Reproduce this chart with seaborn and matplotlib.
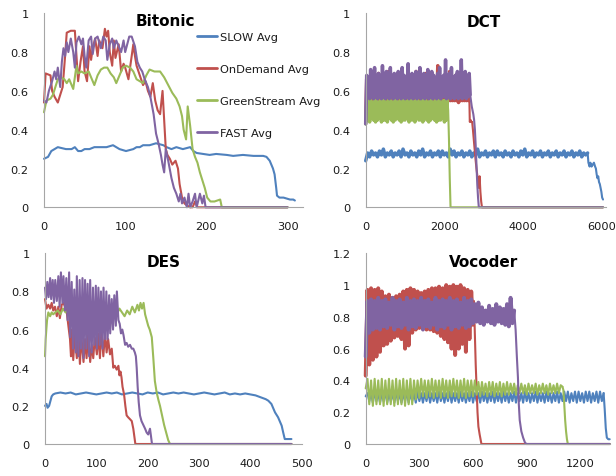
import numpy as np
import pandas as pd
import matplotlib
matplotlib.use("Agg")
import matplotlib.pyplot as plt
import seaborn as sns

# ---------------- data ----------------
SERIES = ["SLOW Avg", "OnDemand Avg", "GreenStream Avg", "FAST Avg"]
COLORS = ["#4F81BD", "#C0504D", "#9BBB59", "#8064A2"]

# Bitonic
bit_slow_x = [0, 5, 9, 13, 17, 27, 34, 38, 42, 46, 50, 56, 62, 69, 77, 85, 89, 93, 101, 110,
              114, 118, 122, 130, 138, 147, 151, 157, 163, 171, 180, 184, 188, 196, 204, 212, 225, 233, 245, 258,
              270, 274, 278, 280, 282, 284, 286, 287, 290, 295, 299, 303, 307, 309]
bit_slow_y = [0.25, 0.26, 0.29, 0.30, 0.31, 0.30, 0.30, 0.31, 0.29, 0.29, 0.30, 0.30, 0.31, 0.31, 0.31, 0.32, 0.31, 0.30, 0.29, 0.30,
              0.31, 0.31, 0.32, 0.32, 0.33, 0.32, 0.31, 0.30, 0.31, 0.30, 0.31, 0.29, 0.28, 0.275, 0.27, 0.275, 0.27, 0.265, 0.27, 0.265,
              0.265, 0.26, 0.24, 0.22, 0.20, 0.17, 0.10, 0.06, 0.05, 0.05, 0.045, 0.04, 0.04, 0.035]
bit_ond_x = [0, 2, 8, 10, 13, 17, 20, 23, 26, 28, 33, 38, 40, 42, 45, 48, 50, 53, 56, 58,
             60, 63, 66, 68, 72, 75, 77, 79, 81, 84, 86, 88, 92, 95, 98, 100, 104, 107, 110, 112,
             114, 118, 122, 125, 128, 131, 134, 137, 140, 143, 146, 148, 150, 152, 155, 158, 162, 165, 167, 170,
             173, 176, 180, 183, 186, 189, 300]
bit_ond_y = [0.54, 0.69, 0.68, 0.60, 0.57, 0.54, 0.58, 0.62, 0.78, 0.90, 0.91, 0.91, 0.78, 0.65, 0.75, 0.83, 0.70, 0.65, 0.83, 0.76,
             0.82, 0.87, 0.78, 0.86, 0.82, 0.92, 0.88, 0.91, 0.80, 0.73, 0.86, 0.77, 0.84, 0.70, 0.74, 0.72, 0.66, 0.75, 0.84, 0.78,
             0.73, 0.68, 0.63, 0.65, 0.60, 0.57, 0.64, 0.55, 0.50, 0.48, 0.60, 0.45, 0.30, 0.27, 0.25, 0.22, 0.24, 0.20, 0.12, 0.05,
             0.02, 0.01, 0.0, 0.0, 0.03, 0.0, 0.0]
bit_green_x = [0, 3, 8, 11, 14, 17, 21, 25, 28, 31, 36, 40, 42, 46, 50, 55, 59, 62, 66, 70,
               74, 78, 82, 86, 89, 93, 97, 101, 106, 110, 114, 118, 122, 126, 130, 136, 143, 148, 153, 158,
               163, 167, 170, 172, 175, 177, 180, 183, 186, 189, 192, 195, 198, 201, 205, 210, 217, 219, 300]
bit_green_y = [0.49, 0.55, 0.56, 0.58, 0.62, 0.66, 0.67, 0.66, 0.64, 0.66, 0.61, 0.73, 0.69, 0.70, 0.69, 0.70, 0.66, 0.63, 0.68, 0.71,
               0.72, 0.72, 0.69, 0.67, 0.64, 0.68, 0.72, 0.73, 0.72, 0.70, 0.66, 0.65, 0.64, 0.68, 0.71, 0.70, 0.70, 0.67, 0.63, 0.59,
               0.56, 0.52, 0.47, 0.40, 0.35, 0.52, 0.42, 0.30, 0.26, 0.23, 0.18, 0.14, 0.10, 0.05, 0.03, 0.03, 0.04, 0.0, 0.0]
bit_fast_x = [0, 3, 6, 10, 13, 15, 17, 20, 22, 24, 26, 28, 30, 33, 36, 38, 40, 43, 46, 48,
              50, 52, 55, 58, 60, 63, 66, 70, 73, 76, 78, 81, 84, 86, 89, 92, 95, 98, 100, 105,
              108, 112, 115, 118, 121, 124, 128, 131, 135, 138, 141, 144, 146, 148, 150, 153, 157, 160, 163, 166,
              168, 170, 173, 176, 178, 180, 183, 186, 188, 192, 195, 197, 199, 300]
bit_fast_y = [0.55, 0.54, 0.60, 0.65, 0.70, 0.66, 0.72, 0.62, 0.75, 0.82, 0.78, 0.85, 0.80, 0.87, 0.80, 0.72, 0.85, 0.88, 0.84, 0.87,
              0.78, 0.72, 0.86, 0.88, 0.79, 0.87, 0.88, 0.82, 0.88, 0.86, 0.76, 0.84, 0.87, 0.82, 0.86, 0.83, 0.80, 0.86, 0.80, 0.88,
              0.88, 0.83, 0.75, 0.72, 0.70, 0.66, 0.62, 0.57, 0.48, 0.38, 0.33, 0.27, 0.22, 0.18, 0.30, 0.24, 0.15, 0.10, 0.07, 0.03,
              0.07, 0.02, 0.05, 0.0, 0.07, 0.0, 0.03, 0.07, 0.0, 0.07, 0.02, 0.06, 0.0, 0.0]

# DCT (dense bands in hundredths, sampled evenly from 0 to band end, then the fall-off)
dct_slow_band = [24, 28, 26, 29, 27, 28, 26, 29, 27, 30, 26, 28, 27, 29, 26, 28, 27, 29, 26, 30,
                 27, 28, 26, 29, 27, 28, 26, 29, 27, 30, 26, 28, 27, 29, 26, 28, 27, 29, 26, 29,
                 27, 28, 26, 30, 27, 29, 26, 28, 27, 29, 26, 28, 27, 29, 26, 28, 27, 30, 26, 28,
                 27, 29, 26, 28, 27, 29, 26, 29, 27, 28, 26, 29, 27, 28, 26, 29, 27, 28, 26, 29,
                 27, 30, 26, 28, 27, 29, 26, 28, 27, 29, 26, 28, 27, 29, 26, 28, 27, 29, 26, 28,
                 27, 29, 26, 28, 27, 29, 26, 28, 27, 29, 26, 28, 27, 28]
dct_slow_end = 5650
dct_slow_tail_x = [5670, 5700, 5720, 5750, 5780, 5810, 5840, 5860, 5880, 5900, 5920, 5940, 5960, 5980, 6000, 6020, 6042]
dct_slow_tail_y = [0.23, 0.21, 0.23, 0.21, 0.22, 0.23, 0.21, 0.20, 0.17, 0.15, 0.16, 0.13, 0.12, 0.10, 0.08, 0.05, 0.04]

dct_ond_band = [44, 66, 55, 64, 55, 68, 55, 65, 54, 67, 55, 63, 55, 69, 55, 66, 55, 64, 55, 68,
                54, 66, 55, 70, 55, 65, 55, 67, 55, 64, 55, 68, 55, 66, 54, 65, 55, 69, 55, 66,
                55, 63, 55, 67, 55, 68, 55, 65, 55, 66, 54, 70, 55, 64, 55, 67, 55, 66, 55, 65,
                55, 69, 55, 66, 55, 68, 54, 65, 55, 67, 55, 66, 55, 73, 55, 65, 55, 67, 55, 66,
                55, 68, 55, 64, 55, 70, 55, 66, 55, 65, 55, 68, 55, 66, 54, 67, 55, 65, 55, 69,
                55, 66, 55, 67, 55, 55]
dct_ond_end = 2640
dct_ond_tail_x = [2650, 2670, 2690, 2710, 2730, 2760, 2790, 2820, 2850, 2880, 2900, 2920, 2940, 2960, 6042]
dct_ond_tail_y = [0.44, 0.45, 0.44, 0.44, 0.40, 0.33, 0.26, 0.20, 0.15, 0.10, 0.16, 0.08, 0.03, 0.0, 0.0]

dct_green_band = [43, 54, 45, 55, 44, 55, 46, 54, 45, 55, 44, 55, 45, 54, 46, 55, 44, 55, 45, 55,
                  45, 54, 44, 55, 46, 55, 45, 54, 44, 55, 45, 55, 46, 54, 45, 55, 44, 55, 45, 55,
                  45, 54, 46, 55, 44, 55, 45, 55, 45, 54, 44, 55, 46, 55, 45, 54, 45, 55, 44, 55,
                  46, 55, 45, 54, 44, 55, 45, 55, 46, 54, 45, 55, 44, 55, 45, 55, 45, 54, 46, 55,
                  44, 55, 45, 55]
dct_green_end = 2080
dct_green_tail_x = [2100, 2120, 2140, 2160, 6042]
dct_green_tail_y = [0.50, 0.35, 0.15, 0.0, 0.0]

dct_fast_band = [43, 68, 57, 66, 56, 71, 57, 67, 56, 72, 57, 66, 56, 69, 57, 67, 56, 73, 57, 66,
                 56, 70, 57, 68, 56, 72, 57, 66, 56, 69, 57, 67, 56, 70, 57, 66, 56, 72, 57, 68,
                 56, 67, 57, 74, 56, 66, 57, 69, 56, 68, 57, 70, 56, 67, 57, 72, 56, 66, 57, 69,
                 56, 68, 57, 71, 56, 67, 57, 70, 56, 68, 57, 66, 56, 69, 57, 72, 56, 67, 57, 68,
                 57, 76, 56, 66, 57, 69, 56, 72, 57, 67, 56, 68, 57, 70, 56, 66, 57, 76, 56, 68,
                 57, 70, 56, 67, 57, 69, 58]
dct_fast_end = 2660
dct_fast_tail_x = [2680, 2700, 2720, 2740, 2760, 2780, 2800, 2820, 2840, 2860, 2880, 6042]
dct_fast_tail_y = [0.55, 0.52, 0.50, 0.48, 0.45, 0.40, 0.32, 0.22, 0.12, 0.05, 0.0, 0.0]

# DES
des_slow_x = [0, 3, 5, 8, 10, 13, 16, 20,
              30, 40, 50, 60, 70, 80, 90, 100, 110, 120, 130, 140, 150, 160, 170, 180, 190, 200, 210,
              220, 230, 240, 250, 260, 270, 280, 290, 300, 310, 320, 330, 340, 350, 360, 370, 380, 390,
              400, 410, 415, 420, 425, 430, 435, 441, 448, 454, 461, 464, 467, 472, 480]
des_slow_y = [0.20, 0.21, 0.19, 0.20, 0.22, 0.25, 0.26, 0.265,
              0.27, 0.265, 0.27, 0.26, 0.265, 0.27, 0.265, 0.26, 0.265, 0.27, 0.265, 0.27, 0.26, 0.265, 0.27, 0.265, 0.26, 0.27, 0.265,
              0.27, 0.26, 0.265, 0.27, 0.265, 0.27, 0.265, 0.26, 0.265, 0.27, 0.265, 0.26, 0.265, 0.27, 0.26, 0.265, 0.26, 0.265,
              0.26, 0.255, 0.25, 0.245, 0.24, 0.235, 0.227, 0.21, 0.166, 0.14, 0.096, 0.06, 0.026, 0.026, 0.026]
des_ond_x = [0, 3, 6.5, 10, 13, 16, 19.5, 23, 26, 29, 32.5, 36, 39, 42, 45.5, 48.7, 50.6, 52.6, 55, 58,
             62, 65, 68, 71, 75, 78, 81, 84, 88, 91, 94, 97, 101, 104, 107, 110, 113.6, 117, 120, 123,
             126.6, 130, 133, 136, 139.6, 143, 145, 147, 149, 151, 154, 156.5, 159, 162, 165.6, 169, 172, 174, 176, 480]
des_ond_y = [0.76, 0.71, 0.73, 0.71, 0.74, 0.70, 0.72, 0.67, 0.72, 0.66, 0.73, 0.74, 0.72, 0.70, 0.62, 0.55, 0.46, 0.60, 0.44, 0.58,
             0.45, 0.60, 0.42, 0.56, 0.43, 0.55, 0.45, 0.58, 0.43, 0.52, 0.45, 0.56, 0.47, 0.58, 0.45, 0.60, 0.46, 0.58, 0.48, 0.55,
             0.47, 0.50, 0.40, 0.41, 0.39, 0.41, 0.36, 0.38, 0.35, 0.30, 0.26, 0.20, 0.15, 0.14, 0.13, 0.12, 0.08, 0.04, 0.0, 0.0]
des_green_x = [0, 1.3, 2.6, 4, 6.5, 10, 13, 16, 20, 25,
               30, 35, 40, 45, 50, 55, 60, 65, 70, 75, 80, 85, 90, 95, 100, 105, 110, 115, 120, 125,
               130, 135, 140, 145, 150, 155, 160, 165, 170, 175, 180,
               183, 186, 189, 192, 195, 198, 201, 204, 208, 211, 214, 217.5, 221, 224, 228, 232, 237, 240, 243.5, 480]
des_green_y = [0.46, 0.55, 0.60, 0.65, 0.69, 0.67, 0.69, 0.68, 0.69, 0.70,
               0.68, 0.71, 0.69, 0.70, 0.68, 0.71, 0.70, 0.72, 0.69, 0.70, 0.68, 0.71, 0.69, 0.70, 0.72, 0.69, 0.70, 0.68, 0.70, 0.71,
               0.69, 0.70, 0.68, 0.71, 0.69, 0.67, 0.70, 0.68, 0.72, 0.69, 0.73,
               0.70, 0.74, 0.71, 0.74, 0.68, 0.65, 0.62, 0.60, 0.56, 0.45, 0.33, 0.27, 0.23, 0.20, 0.15, 0.10, 0.05, 0.02, 0.0, 0.0]
des_fast_x = [0, 2, 4.5, 7, 10, 12, 15, 17.5, 20, 23, 26, 28.5, 31, 34, 36, 39, 41.5, 44, 47, 49,
              52, 54.5, 57, 60, 62, 65, 67.5, 70, 73, 75, 78, 80.5, 83, 86, 88, 91, 93.5, 96, 99, 101,
              104, 106.5, 109, 112, 114, 117, 119.5, 122, 125, 127, 130, 132.5, 135, 138, 140, 143, 145.5, 148, 150.6, 153,
              156, 159, 162, 165.6, 169, 172, 175, 177, 178.6, 180.5, 182.5, 185, 188, 191.5, 195, 198, 201, 204.5, 206.5, 208.4, 480]
des_fast_y = [0.82, 0.76, 0.85, 0.77, 0.87, 0.76, 0.86, 0.74, 0.86, 0.75, 0.88, 0.72, 0.90, 0.74, 0.88, 0.70, 0.87, 0.65, 0.90, 0.56,
              0.85, 0.50, 0.81, 0.48, 0.88, 0.46, 0.86, 0.50, 0.87, 0.45, 0.86, 0.50, 0.84, 0.46, 0.86, 0.48, 0.82, 0.52, 0.83, 0.50,
              0.82, 0.52, 0.80, 0.50, 0.82, 0.55, 0.80, 0.55, 0.78, 0.58, 0.76, 0.60, 0.78, 0.62, 0.80, 0.65, 0.63, 0.58, 0.60, 0.57,
              0.52, 0.53, 0.51, 0.52, 0.50, 0.50, 0.48, 0.46, 0.40, 0.30, 0.22, 0.15, 0.12, 0.10, 0.08, 0.06, 0.05, 0.08, 0.04, 0.0, 0.0]

# Vocoder (dense bands in hundredths, sampled evenly from 0 to band end, then the fall-off)
voc_slow_band = [30, 32, 27, 32, 26, 33, 27, 32, 26, 32, 27, 33, 26, 32, 27, 32, 26, 33, 27, 32, 26, 32, 27, 33, 26, 32,
                 27, 32, 26, 33, 27, 32, 26, 32, 27, 33, 26, 32, 27, 32, 26, 33, 27, 32, 26, 32, 27, 33, 26, 32, 27, 32, 26, 33, 27, 32,
                 26, 32, 27, 33, 26, 32, 27, 32, 26, 33, 27, 32, 26, 32, 27, 33, 26, 32, 27, 32, 26, 33, 27, 32, 26, 32, 27, 33, 26, 32,
                 27, 32, 26, 33, 27, 32, 26, 32, 27, 33, 26, 32, 27, 32, 26, 33, 27, 32, 26, 32, 27, 33, 26, 32, 27, 33, 27, 33, 26, 32,
                 27, 33, 26, 33, 27, 32, 26, 33, 27, 33, 26, 32, 27, 33, 26, 33, 27, 32]
voc_slow_end = 1330
voc_slow_tail_x = [1336, 1342, 1348, 1356, 1364]
voc_slow_tail_y = [0.22, 0.10, 0.04, 0.03, 0.03]

voc_ond_band = [43, 97, 50, 98, 53, 97, 55, 98, 58, 96, 62, 93, 63, 94, 65, 92, 67, 93, 68, 94,
                66, 96, 60, 97, 62, 98, 70, 97, 72, 96, 73, 95, 74, 96, 72, 97, 72, 98, 71, 98,
                70, 99, 68, 98, 66, 100, 64, 99, 60, 100, 56, 99, 60, 100, 63, 98, 58, 97, 66, 96, 75]
voc_ond_end = 600
voc_ond_tail_x = [605, 610, 615, 620, 625, 630, 637, 647, 1364]
voc_ond_tail_y = [0.90, 0.70, 0.50, 0.35, 0.20, 0.11, 0.06, 0.0, 0.0]

voc_green_band = [35, 41, 25, 40, 24, 41, 25, 40, 25, 41, 24, 40, 25, 41, 25, 40, 24, 41, 25, 40, 25, 41, 24, 40, 25, 41, 25, 40,
                  28, 40, 29, 41, 30, 40, 29, 40, 30, 41, 29, 40, 30, 40, 29, 41, 30, 40, 29, 40, 30, 41, 30, 40, 29, 40, 30, 41,
                  29, 40, 30, 40, 30, 40,
                  31, 39, 30, 39, 31, 38, 30, 39, 31, 39, 30, 38, 31, 39, 30, 38, 31, 39, 31, 38,
                  32, 38, 31, 37, 32, 38, 32, 37, 31, 38, 32, 37, 32, 38, 31, 37, 32, 38, 32, 37, 31, 38, 32, 37, 32, 38, 32, 37, 36]
voc_green_end = 1100
voc_green_tail_x = [1105, 1110, 1115, 1120, 1125, 1130, 1364]
voc_green_tail_y = [0.34, 0.25, 0.15, 0.08, 0.03, 0.0, 0.0]

voc_fast_band = [55, 90, 70, 91, 72, 90, 73, 92, 72, 90, 74, 91, 73, 89, 75, 92, 72, 90, 74, 91,
                 73, 89, 75, 92, 72, 90, 74, 91, 73, 90, 75, 92, 72, 90, 74, 91, 73, 89, 75, 92,
                 72, 90, 74, 91, 73, 90, 75, 92, 72, 90, 74, 91, 73, 89, 75, 92, 73, 90, 74, 91,
                 76, 88, 77, 89, 76, 86, 75, 84, 77, 87, 76, 85, 75, 88, 77, 86, 76, 85, 75, 88,
                 74, 92, 76, 84]
voc_fast_end = 830
voc_fast_tail_x = [838, 845, 851, 856, 861, 870, 880, 890, 898, 1364]
voc_fast_tail_y = [0.72, 0.55, 0.42, 0.25, 0.15, 0.08, 0.04, 0.01, 0.0, 0.0]


# ---------------- helpers ----------------
def pair(x, y):
    n = min(len(x), len(y))
    return np.asarray(x[:n], float), np.asarray(y[:n], float)


def band_parts(band, band_end, tail_x, tail_y):
    """Return (band piece, tail piece); the tail starts at the band's last sample."""
    bx = np.linspace(0, band_end, len(band))
    by = np.asarray(band, float) / 100.0
    tx = np.concatenate([[bx[-1]], np.asarray(tail_x, float)])
    ty = np.concatenate([[by[-1]], np.asarray(tail_y, float)])
    return (bx, by), (tx, ty)


LW = 1.5
bit_pieces = [[pair(bit_slow_x, bit_slow_y) + (LW,)], [pair(bit_ond_x, bit_ond_y) + (LW,)],
              [pair(bit_green_x, bit_green_y) + (LW,)], [pair(bit_fast_x, bit_fast_y) + (LW,)]]
des_pieces = [[pair(des_slow_x, des_slow_y) + (LW,)], [pair(des_ond_x, des_ond_y) + (LW,)],
              [pair(des_green_x, des_green_y) + (LW,)], [pair(des_fast_x, des_fast_y) + (LW,)]]


def banded_pieces(spec):
    out = []
    for band, end, tx, ty, blw in spec:
        (bx, by), (tx2, ty2) = band_parts(band, end, tx, ty)
        out.append([(bx, by, blw), (tx2, ty2, LW)])
    return out


dct_pieces = banded_pieces([
    (dct_slow_band, dct_slow_end, dct_slow_tail_x, dct_slow_tail_y, 2.5),
    (dct_ond_band, dct_ond_end, dct_ond_tail_x, dct_ond_tail_y, 2.5),
    (dct_green_band, dct_green_end, dct_green_tail_x, dct_green_tail_y, 2.5),
    (dct_fast_band, dct_fast_end, dct_fast_tail_x, dct_fast_tail_y, 2.5),
])
voc_pieces = banded_pieces([
    (voc_slow_band, voc_slow_end, voc_slow_tail_x, voc_slow_tail_y, LW),
    (voc_ond_band, voc_ond_end, voc_ond_tail_x, voc_ond_tail_y, 2.8),
    (voc_green_band, voc_green_end, voc_green_tail_x, voc_green_tail_y, LW),
    (voc_fast_band, voc_fast_end, voc_fast_tail_x, voc_fast_tail_y, 2.8),
])

# ---------------- figure ----------------
sns.set_style("white")
plt.rcParams["font.family"] = ["DejaVu Sans"]

W, H = 616, 477
fig = plt.figure(figsize=(W / 100, H / 100), dpi=100)
fig.patch.set_facecolor("white")


def add_ax(l, r, t, b):
    return fig.add_axes([l / W, 1 - b / H, (r - l) / W, (b - t) / H])


Y10 = [0, 0.2, 0.4, 0.6, 0.8, 1.0]
Y10L = ["0", "0.2", "0.4", "0.6", "0.8", "1"]
panels = [
    dict(rect=(44, 303, 14.3, 208.3), pieces=bit_pieces, xlim=319, xticks=[0, 100, 200, 300],
         ylim=1.0, yticks=Y10, ylabels=Y10L, title="Bitonic", tpos=(165, 26.5), legend=True),
    dict(rect=(365.7, 605.5, 14.3, 208.3), pieces=dct_pieces, xlim=6105, xticks=[0, 2000, 4000, 6000],
         ylim=1.0, yticks=Y10, ylabels=Y10L, title="DCT", tpos=(484, 26.7), legend=False),
    dict(rect=(45, 301.7, 254.3, 445), pieces=des_pieces, xlim=500, xticks=[0, 100, 200, 300, 400, 500],
         ylim=1.0, yticks=Y10, ylabels=Y10L, title="DES", tpos=(164, 266.7), legend=False),
    dict(rect=(365.7, 609.7, 254.3, 445), pieces=voc_pieces, xlim=1364, xticks=[0, 300, 600, 900, 1200],
         ylim=1.2, yticks=Y10 + [1.2], ylabels=Y10L + ["1.2"], title="Vocoder", tpos=(484, 266.7), legend=False),
]

AXIS_GRAY = "#A6A6A6"
for p in panels:
    ax = add_ax(*p["rect"])
    for name, color, pieces in zip(SERIES, COLORS, p["pieces"]):
        for k, (x, y, lw) in enumerate(pieces):
            sns.lineplot(x=x, y=y, color=color, linewidth=lw, estimator=None, sort=False, ax=ax,
                         label=name if (p["legend"] and k == 0) else None)
    for ln in ax.get_lines():
        ln.set_clip_on(False)
        ln.set_solid_joinstyle("round")
    ax.set_xlim(0, p["xlim"])
    ax.set_ylim(0, p["ylim"])
    ax.set_xticks(p["xticks"])
    ax.set_xticklabels([str(v) for v in p["xticks"]])
    ax.set_yticks(p["yticks"])
    ax.set_yticklabels(p["ylabels"])
    ax.set_xlabel("")
    ax.set_ylabel("")
    for s in ["top", "right"]:
        ax.spines[s].set_visible(False)
    for s in ["left", "bottom"]:
        ax.spines[s].set_color(AXIS_GRAY)
        ax.spines[s].set_linewidth(0.8)
    ax.tick_params(axis="both", which="major", direction="out", length=4, width=0.8,
                   color=AXIS_GRAY, labelsize=8.2, labelcolor="#1a1a1a")
    ax.tick_params(axis="y", pad=7)
    ax.tick_params(axis="x", pad=6)
    ax.set_facecolor("none")
    fig.text(p["tpos"][0] / W, 1 - p["tpos"][1] / H, p["title"], ha="center", va="baseline",
             fontsize=11, fontweight="bold", color="#000000")
    if p["legend"]:
        sns.move_legend(ax, "upper left", bbox_to_anchor=(197 / W, 1 - 33 / H),
                        bbox_transform=fig.transFigure, frameon=False, title=None,
                        fontsize=8.2, handlelength=1.75, handletextpad=0.25,
                        labelspacing=1.93, borderpad=0, borderaxespad=0)
        leg = ax.get_legend()
        for ln in leg.get_lines():
            ln.set_linewidth(2.0)
        for t in leg.get_texts():
            t.set_color("#1a1a1a")
    elif ax.get_legend() is not None:
        ax.get_legend().remove()

fig.savefig("out.png", dpi=100, facecolor="white")
